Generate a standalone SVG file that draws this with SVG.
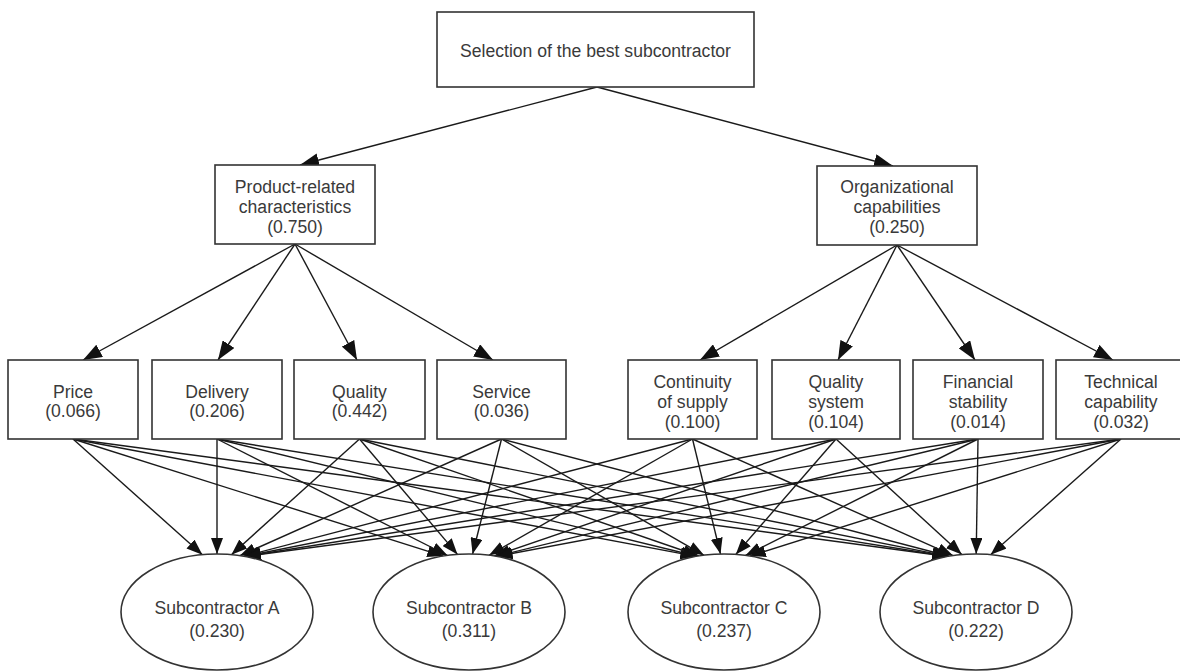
<svg xmlns="http://www.w3.org/2000/svg" width="1180" height="672" viewBox="0 0 1180 672">
<style>
.box{fill:#fff;stroke:#333;stroke-width:1.6}
.ell{fill:#fff;stroke:#333;stroke-width:1.6}
.t{font-family:"Liberation Sans",Arial,sans-serif;font-size:17.6px;fill:#3a3a3a;text-anchor:middle}
.c{stroke:#1a1a1a;stroke-width:1.4;fill:none}
.big{marker-end:url(#ah)}
.sm{marker-end:url(#as)}
</style>
<defs>
<marker id="ah" markerUnits="userSpaceOnUse" markerWidth="20" markerHeight="14" refX="19" refY="7" orient="auto"><path d="M0,0 L19,7 L0,14 z" fill="#111"/></marker>
<marker id="as" markerUnits="userSpaceOnUse" markerWidth="17" markerHeight="12" refX="16" refY="6" orient="auto"><path d="M0,0 L16,6 L0,12 z" fill="#111"/></marker>
</defs>
<rect width="1180" height="672" fill="#fff"/>
<g id="connectors">
<line class="c big" x1="597" y1="87" x2="300" y2="165"/>
<line class="c big" x1="597" y1="87" x2="893" y2="166"/>
<line class="c big" x1="295" y1="244" x2="83" y2="360"/>
<line class="c big" x1="295" y1="244" x2="218" y2="360"/>
<line class="c big" x1="295" y1="244" x2="357" y2="360"/>
<line class="c big" x1="295" y1="244" x2="493" y2="360"/>
<line class="c big" x1="897" y1="245" x2="700" y2="360"/>
<line class="c big" x1="897" y1="245" x2="838" y2="360"/>
<line class="c big" x1="897" y1="245" x2="975" y2="360"/>
<line class="c big" x1="897" y1="245" x2="1113" y2="360"/>
<line class="c sm" x1="73" y1="439" x2="202.4" y2="554.7"/>
<line class="c sm" x1="217" y1="439" x2="217" y2="554"/>
<line class="c sm" x1="359.5" y1="439" x2="231.4" y2="554.7"/>
<line class="c sm" x1="501.5" y1="439" x2="239.8" y2="555.7"/>
<line class="c sm" x1="692.5" y1="439" x2="243.8" y2="556.3"/>
<line class="c sm" x1="836" y1="439" x2="244.6" y2="556.4"/>
<line class="c sm" x1="978" y1="439" x2="244.9" y2="556.5"/>
<line class="c sm" x1="1121" y1="439" x2="245" y2="556.5"/>
<line class="c sm" x1="73" y1="439" x2="443.3" y2="556.1"/>
<line class="c sm" x1="217" y1="439" x2="447.6" y2="555.5"/>
<line class="c sm" x1="359.5" y1="439" x2="457.5" y2="554.4"/>
<line class="c sm" x1="501.5" y1="439" x2="472.6" y2="554"/>
<line class="c sm" x1="692.5" y1="439" x2="489" y2="555.3"/>
<line class="c sm" x1="836" y1="439" x2="494.2" y2="556"/>
<line class="c sm" x1="978" y1="439" x2="496" y2="556.3"/>
<line class="c sm" x1="1121" y1="439" x2="496.7" y2="556.4"/>
<line class="c sm" x1="73" y1="439" x2="696.3" y2="556.4"/>
<line class="c sm" x1="217" y1="439" x2="697" y2="556.3"/>
<line class="c sm" x1="359.5" y1="439" x2="698.9" y2="556"/>
<line class="c sm" x1="501.5" y1="439" x2="704.1" y2="555.3"/>
<line class="c sm" x1="692.5" y1="439" x2="720.5" y2="554"/>
<line class="c sm" x1="836" y1="439" x2="735.8" y2="554.4"/>
<line class="c sm" x1="978" y1="439" x2="745.5" y2="555.5"/>
<line class="c sm" x1="1121" y1="439" x2="749.8" y2="556.1"/>
<line class="c sm" x1="73" y1="439" x2="948" y2="556.5"/>
<line class="c sm" x1="217" y1="439" x2="948.1" y2="556.5"/>
<line class="c sm" x1="359.5" y1="439" x2="948.4" y2="556.4"/>
<line class="c sm" x1="501.5" y1="439" x2="949.2" y2="556.3"/>
<line class="c sm" x1="692.5" y1="439" x2="953.2" y2="555.7"/>
<line class="c sm" x1="836" y1="439" x2="961.8" y2="554.6"/>
<line class="c sm" x1="978" y1="439" x2="976.2" y2="554"/>
<line class="c sm" x1="1121" y1="439" x2="990.6" y2="554.7"/>
</g>
<g id="goal"><rect class="box" x="437" y="12" width="317" height="75"/><text class="t" x="595.5" y="57">Selection of the best subcontractor</text></g>
<g id="product"><rect class="box" x="215" y="165" width="160" height="79"/><text class="t" x="295" y="193">Product-related</text><text class="t" x="295" y="213">characteristics</text><text class="t" x="295" y="233">(0.750)</text></g>
<g id="organizational"><rect class="box" x="817" y="166" width="160" height="79"/><text class="t" x="897" y="193">Organizational</text><text class="t" x="897" y="213">capabilities</text><text class="t" x="897" y="233">(0.250)</text></g>
<g id="price"><rect class="box" x="8" y="360" width="130" height="79"/><text class="t" x="73" y="398">Price</text><text class="t" x="73" y="417">(0.066)</text></g>
<g id="delivery"><rect class="box" x="152" y="360" width="130" height="79"/><text class="t" x="217" y="398">Delivery</text><text class="t" x="217" y="417">(0.206)</text></g>
<g id="quality"><rect class="box" x="294" y="360" width="131" height="79"/><text class="t" x="359.5" y="398">Quality</text><text class="t" x="359.5" y="417">(0.442)</text></g>
<g id="service"><rect class="box" x="437" y="360" width="129" height="79"/><text class="t" x="501.5" y="398">Service</text><text class="t" x="501.5" y="417">(0.036)</text></g>
<g id="continuity"><rect class="box" x="628" y="360" width="129" height="79"/><text class="t" x="692.5" y="388">Continuity</text><text class="t" x="692.5" y="408">of supply</text><text class="t" x="692.5" y="428">(0.100)</text></g>
<g id="qualitysystem"><rect class="box" x="772" y="360" width="128" height="79"/><text class="t" x="836" y="388">Quality</text><text class="t" x="836" y="408">system</text><text class="t" x="836" y="428">(0.104)</text></g>
<g id="financial"><rect class="box" x="913" y="360" width="130" height="79"/><text class="t" x="978" y="388">Financial</text><text class="t" x="978" y="408">stability</text><text class="t" x="978" y="428">(0.014)</text></g>
<g id="technical"><rect class="box" x="1056" y="360" width="130" height="79"/><text class="t" x="1121" y="388">Technical</text><text class="t" x="1121" y="408">capability</text><text class="t" x="1121" y="428">(0.032)</text></g>
<g id="subA"><ellipse class="ell" cx="217" cy="612" rx="96" ry="58"/><text class="t" x="217" y="614">Subcontractor A</text><text class="t" x="217" y="637">(0.230)</text></g>
<g id="subB"><ellipse class="ell" cx="469" cy="612" rx="96" ry="58"/><text class="t" x="469" y="614">Subcontractor B</text><text class="t" x="469" y="637">(0.311)</text></g>
<g id="subC"><ellipse class="ell" cx="724" cy="612" rx="96" ry="58"/><text class="t" x="724" y="614">Subcontractor C</text><text class="t" x="724" y="637">(0.237)</text></g>
<g id="subD"><ellipse class="ell" cx="976" cy="612" rx="96" ry="58"/><text class="t" x="976" y="614">Subcontractor D</text><text class="t" x="976" y="637">(0.222)</text></g>
</svg>
